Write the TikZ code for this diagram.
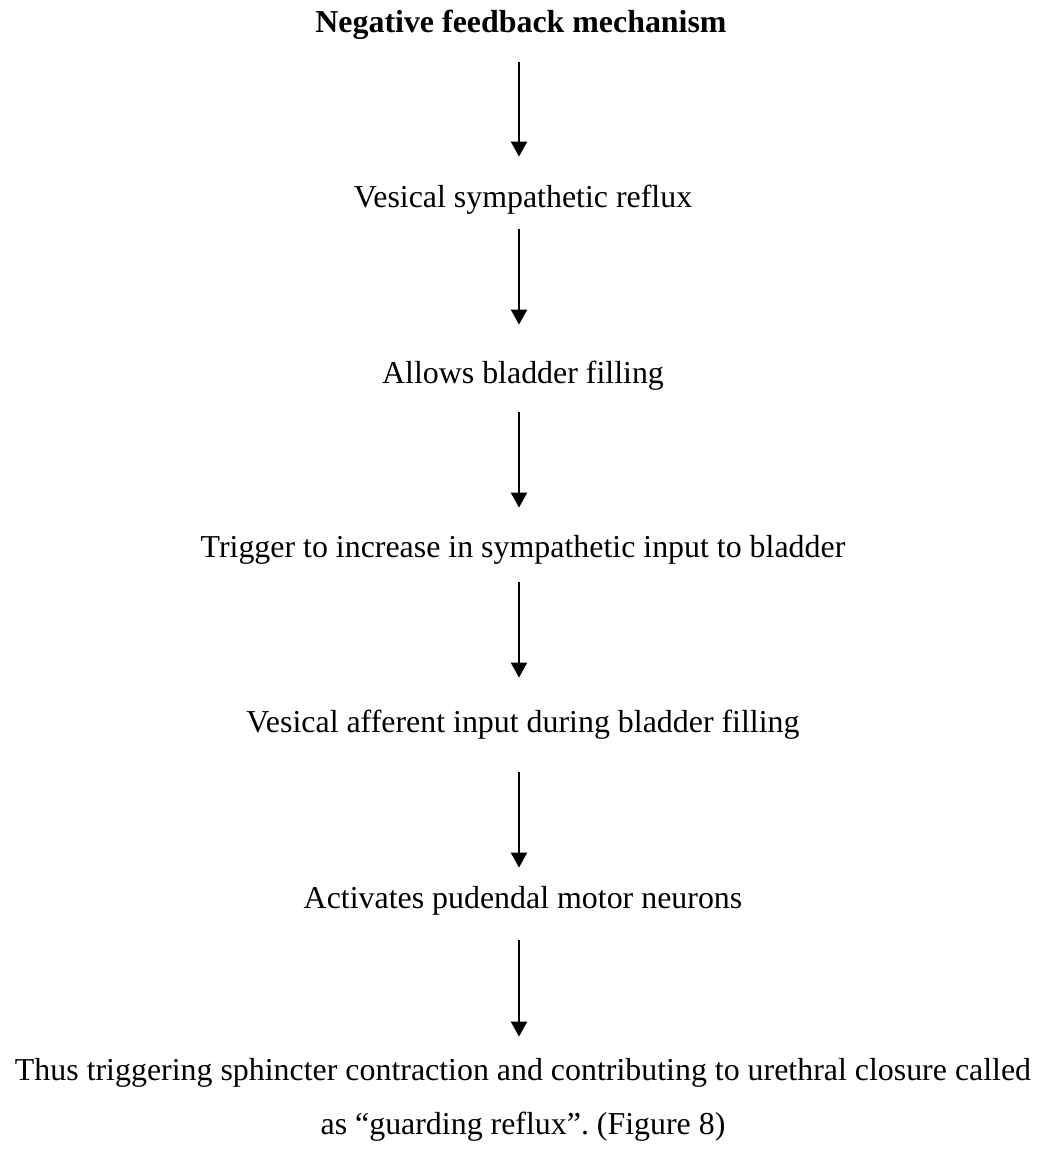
\documentclass[tikz,border=0pt]{standalone}
\usepackage{fontspec}
\setmainfont{Liberation Serif}
\usetikzlibrary{arrows.meta}
\frenchspacing
\begin{document}
\begin{tikzpicture}[x=0.5pt,y=-0.5pt,
  txt/.style={inner sep=0pt, anchor=base, font=\fontsize{15.95pt}{19pt}\selectfont, text height=10.5pt, text depth=3.5pt},
  ttl/.style={txt, font=\fontsize{15.95pt}{19pt}\selectfont\bfseries},
  arr/.style={line width=1pt, -{Triangle[length=7.5pt,width=8pt]}}]
\useasboundingbox[fill=white] (0,0) rectangle (1038,1160);
\node[ttl] (t0) at (521,33) {Negative feedback mechanism};
\node[txt] (t1) at (523,208) {Vesical sympathetic reflux};
\node[txt] (t2) at (523,383) {Allows bladder filling};
\node[txt] (t3) at (523,557) {Trigger to increase in sympathetic input to bladder};
\node[txt] (t4) at (523,732) {Vesical afferent input during bladder filling};
\node[txt] (t5) at (523,908) {Activates pudendal motor neurons};
\node[txt] (t6) at (523,1080) {Thus triggering sphincter contraction and contributing to urethral closure called};
\node[txt] (t7) at (523,1134) {as “guarding reflux”. (Figure 8)};
\draw[arr] ([xshift=-1pt,yshift=-11pt]t0.south) -- ([xshift=-2pt,yshift=15pt]t1.north);
\draw[arr] ([xshift=-2pt,yshift=-7pt]t1.south) -- ([xshift=-2pt,yshift=18.5pt]t2.north);
\draw[arr] ([xshift=-2pt,yshift=-11pt]t2.south) -- ([xshift=-2pt,yshift=14pt]t3.north);
\draw[arr] ([xshift=-2pt,yshift=-9pt]t3.south) -- ([xshift=-2pt,yshift=16.5pt]t4.north);
\draw[arr] ([xshift=-2pt,yshift=-16.5pt]t4.south) -- ([xshift=-2pt,yshift=9.5pt]t5.north);
\draw[arr] ([xshift=-2pt,yshift=-12.5pt]t5.south) -- ([xshift=-2pt,yshift=11pt]t6.north);
\end{tikzpicture}
\end{document}
